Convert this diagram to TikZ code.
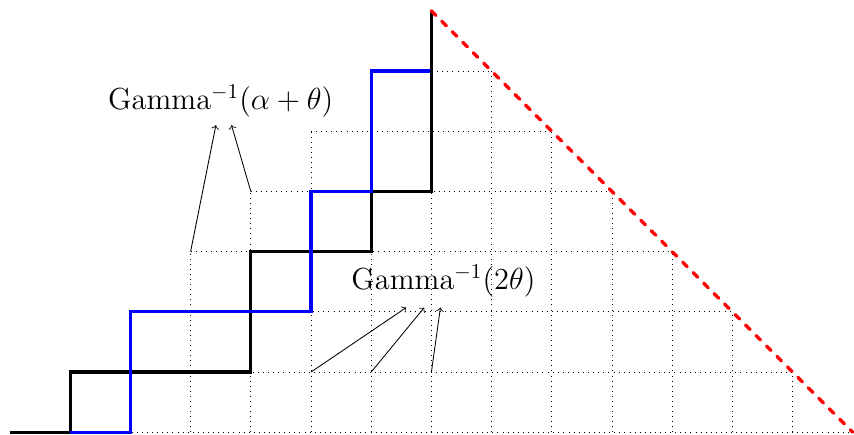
\documentclass[tikz,border=0pt]{standalone}
\begin{document}
\begin{tikzpicture}[x=1cm,y=1cm,
  gridline/.style={dotted, line width=0.4pt},
  stairblack/.style={line width=1.5pt, black},
  stairblue/.style={line width=1.5pt, blue},
  diag/.style={line width=1.6pt, red, dash pattern=on 3pt off 4pt, line cap=round},
  lbl/.style={font=\Large, inner sep=1pt},
  pointer/.style={->, line width=0.4pt}]
\useasboundingbox (-0.166,-0.033) rectangle (14.02,7.18);
% dotted grid
\foreach \k in {0,...,6} {
  \pgfmathtruncatemacro{\r}{14-\k}
  \draw[gridline] (\k,\k) -- (\r,\k);
}
\foreach \k in {1,...,13} {
  \pgfmathtruncatemacro{\h}{min(\k,14-\k)}
  \draw[gridline] (\k,0) -- (\k,\h);
}
% named points
\coordinate (O) at (0,0);
\coordinate (apex) at (7,7);
\coordinate (end) at (14,0);
\coordinate (a1) at (3,3);
\coordinate (a2) at (4,4);
\coordinate (b1) at (5,1);
\coordinate (b2) at (6,1);
\coordinate (b3) at (7,1);
% staircases
\draw[stairblack] (O) -- (1,0) -- (1,1) -- (4,1) -- (4,3) -- (6,3) -- (6,4) -- (7,4) -- (apex);
\draw[stairblue] (1,0) -- (2,0) -- (2,2) -- (5,2) -- (5,4) -- (6,4) -- (6,6) -- (7,6);
\draw[stairblack] (7,4) -- (apex);
% red diagonal
\draw[diag] (apex) -- (end);
% labels
\node[lbl] (L1) at (3.5,5.5) {Gamma$^{-1}(\alpha+\theta)$};
\node[lbl] (L2) at (7.2,2.52) {Gamma$^{-1}(2\theta)$};
\coordinate (t1) at (3.42,5.1);
\coordinate (t2) at (3.68,5.1);
\coordinate (u1) at (6.58,2.07);
\coordinate (u2) at (6.88,2.07);
\coordinate (u3) at (7.15,2.07);
\draw[pointer] (a1) -- (t1);
\draw[pointer] (a2) -- (t2);
\draw[pointer] (b1) -- (u1);
\draw[pointer] (b2) -- (u2);
\draw[pointer] (b3) -- (u3);
\end{tikzpicture}
\end{document}
